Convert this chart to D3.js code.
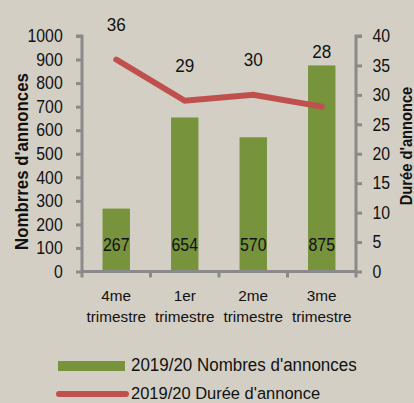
<!DOCTYPE html>
<html><head><meta charset="utf-8">
<script src="https://cdn.jsdelivr.net/npm/d3@7"></script>
<style>
html,body{margin:0;padding:0;background:#d3cfc4;}
svg{display:block;font-family:"Liberation Sans",Arial,sans-serif;}
</style></head><body>
<svg id="c" width="414" height="403"></svg>
<script>
const categories = [["4me","trimestre"],["1er","trimestre"],["2me","trimestre"],["3me","trimestre"]];
const annonces = [267, 654, 570, 875];
const duree = [36, 29, 30, 28];
const leftTicks = [0,100,200,300,400,500,600,700,800,900,1000];
const rightTicks = [0,5,10,15,20,25,30,35,40];
const seriesNames = ["2019/20 Nombres d'annonces", "2019/20 Durée d'annonce"];
const axisTitles = ["Nombrres d'annonces", "Durée d'annonce"];

const svg = d3.select("#c");
const L = 82, R = 356, T = 36, B = 271.5;
const axisColor = "#8a8a8a", barColor = "#77933c", lineColor = "#c0504d", txt = "#111";

function squeeze(sel, s) {
  sel.each(function(){
    const x = +this.getAttribute("x") || 0;
    this.setAttribute("transform", `translate(${x},0) scale(${s},1) translate(${-x},0)`);
  });
}

const x = d3.scaleBand().domain(d3.range(categories.length)).range([L, R]).paddingInner(0.6).paddingOuter(0.3);
const xb = d3.scaleBand().domain(d3.range(categories.length)).range([L, R]);
const yL = d3.scaleLinear().domain([0, 1000]).range([B, T]);
const yR = d3.scaleLinear().domain([0, 40]).range([B, T]);

// bars
svg.selectAll("rect.bar").data(annonces).enter().append("rect")
  .attr("x", (d,i)=>x(i)).attr("width", x.bandwidth())
  .attr("y", d=>yL(d)).attr("height", d=>B-yL(d)).attr("fill", barColor);

// bar labels
squeeze(svg.selectAll("text.bl").data(annonces).enter().append("text")
  .attr("x", (d,i)=>xb(i)+xb.bandwidth()/2).attr("y", 251.5)
  .attr("text-anchor","middle").attr("font-size",18.5).attr("fill",txt).text(d=>d), 0.86);

// left axis
const gl = svg.append("g").attr("transform",`translate(${L},0)`)
  .call(d3.axisLeft(yL).tickValues(leftTicks).tickFormat(d3.format("d")).tickSize(6).tickPadding(13.3).tickSizeOuter(6));
// right axis
const gr = svg.append("g").attr("transform",`translate(${R},0)`)
  .call(d3.axisRight(yR).tickValues(rightTicks).tickSize(6).tickPadding(10.5).tickSizeOuter(6));
// bottom axis
const gb = svg.append("g").attr("transform",`translate(0,${B})`)
  .call(d3.axisBottom(xb).tickValues([]).tickSizeOuter(0));
[0,1,2,3,4].forEach(i=>{
  const xx = L + i*xb.bandwidth();
  gb.append("line").attr("x1",xx).attr("x2",xx).attr("y1",0).attr("y2",6).attr("stroke",axisColor).attr("stroke-width",3);
});
[gl,gr,gb].forEach(g=>{
  g.selectAll("path").attr("stroke",axisColor).attr("stroke-width",3);
  g.selectAll(".tick line").attr("stroke",axisColor).attr("stroke-width",3);
  g.selectAll("text").attr("font-size",18).attr("fill",txt).attr("font-family",null);
  squeeze(g.selectAll("text"), 0.88);
});
gl.select("path").attr("d",`M-6,${T}H0V${B}`);
gr.select("path").attr("d",`M6,${T}H0V${B}`);
gb.select("path").attr("d",`M${L},0H${R}`);

// category labels
categories.forEach((c,i)=>{
  const cx = xb(i)+xb.bandwidth()/2;
  const t = svg.append("text").attr("text-anchor","middle")
    .attr("font-size",15.3).attr("fill",txt);
  t.append("tspan").attr("x", cx).attr("y",301).text(c[0]);
  t.append("tspan").attr("x", cx).attr("y",322).text(c[1]);
});

// line
const line = d3.line().x((d,i)=>xb(i)+xb.bandwidth()/2).y(d=>yR(d));
svg.append("path").datum(duree).attr("d",line).attr("fill","none")
  .attr("stroke",lineColor).attr("stroke-width",6).attr("stroke-linecap","round");

// line labels
squeeze(svg.selectAll("text.ll").data(duree).enter().append("text")
  .attr("x",(d,i)=>xb(i)+xb.bandwidth()/2)
  .attr("y",(d,i)=>Math.min(yR(d)-28.5, yL(annonces[i])-7.5))
  .attr("text-anchor","middle").attr("font-size",19).attr("fill",txt).text(d=>d), 0.9);

// axis titles
svg.append("text").attr("transform","translate(28,161.5) rotate(-90) scale(0.885,1)").attr("text-anchor","middle")
  .attr("font-size",19).attr("font-weight","bold").attr("fill",txt).text(axisTitles[0]);
svg.append("text").attr("transform","translate(411.5,146) rotate(-90) scale(0.89,1)").attr("text-anchor","middle")
  .attr("font-size",16.5).attr("font-weight","bold").attr("fill",txt).text(axisTitles[1]);

// legend
svg.append("rect").attr("x",58).attr("y",361).attr("width",67).attr("height",10).attr("fill",barColor);
squeeze(svg.append("text").attr("x",131).attr("y",371).attr("font-size",17.5).attr("fill",txt).text(seriesNames[0]), 0.97);
svg.append("line").attr("x1",59).attr("x2",126).attr("y1",394).attr("y2",394)
  .attr("stroke",lineColor).attr("stroke-width",6).attr("stroke-linecap","round");
squeeze(svg.append("text").attr("x",131).attr("y",399.5).attr("font-size",17).attr("fill",txt).text(seriesNames[1]), 0.97);
</script>
</body></html>
